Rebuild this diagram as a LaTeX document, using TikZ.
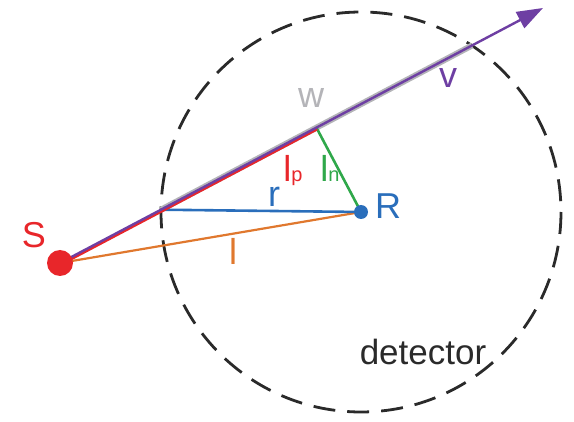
\documentclass[tikz,border=0pt]{standalone}
\usepackage{fontspec}
\setmainfont{Liberation Sans}
\usetikzlibrary{arrows.meta,calc}
\definecolor{cred}{HTML}{E8262A}
\definecolor{cblue}{HTML}{2A6EBB}
\definecolor{corange}{HTML}{E0782E}
\definecolor{cgreen}{HTML}{2FA84A}
\definecolor{cpurple}{HTML}{6E3FA3}
\definecolor{cgray}{HTML}{B4B4B8}
\definecolor{cdark}{HTML}{2A2A2A}
\tikzset{
  lbl/.style={inner sep=0pt, anchor=base, font=\fontsize{36}{36}\selectfont},
  seg/.style={line width=2.6pt}
}
\begin{document}
\begin{tikzpicture}[x=1pt,y=-1pt]
\useasboundingbox (0,0) rectangle (574,422);
% key points
\coordinate (S) at (60,263);
\coordinate (R) at (361,212);
\coordinate (F) at (316.4,127.6);
\coordinate (E) at (161,209.7);
\coordinate (X) at (472,45.5);
\coordinate (T) at (543,8);
% detector
\draw[cdark, line width=2.8pt, dash pattern=on 22pt off 12pt] (R) circle[radius=200];
% lines
\draw[cgray, line width=6pt] (E) -- (X);
\draw[corange, line width=2.2pt] (S) -- (R);
\draw[cblue, seg] (E) -- (R);
\draw[cgreen, seg] (F) -- (R);
\draw[cred, line width=3.2pt] ([shift={(0.6,1.3)}]S) -- ([shift={(0.6,1.3)}]F);
\draw[cpurple, line width=2.4pt, -{Triangle[length=26pt,width=18pt]}] (S) -- (T);
% dots
\node[circle, fill=cred, minimum size=26pt, inner sep=0pt] (Sdot) at (S) {};
\node[circle, fill=cblue, minimum size=14pt, inner sep=0pt] (Rdot) at (R) {};
% labels
\node[lbl, text=cred] (Slab) at (34,248) {S};
\node[lbl, text=cblue] (Rlab) at (388,219) {R};
\node[lbl, text=cblue] (rlab) at (274,207) {r};
\node[lbl, text=cred] (lplab) at (293,182) {l{\fontsize{20}{20}\selectfont p}};
\node[lbl, text=cgreen] (lnlab) at (330,182) {l{\fontsize{20}{20}\selectfont n}};
\node[lbl, text=corange] (llab) at (233,265) {l};
\node[lbl, text=cgray] (wlab) at (311,108) {w};
\node[lbl, text=cpurple] (vlab) at (448,88) {v};
\node[lbl, text=cdark, font=\fontsize{35}{35}\selectfont] (dlab) at (423,365) {detector};
\end{tikzpicture}
\end{document}
